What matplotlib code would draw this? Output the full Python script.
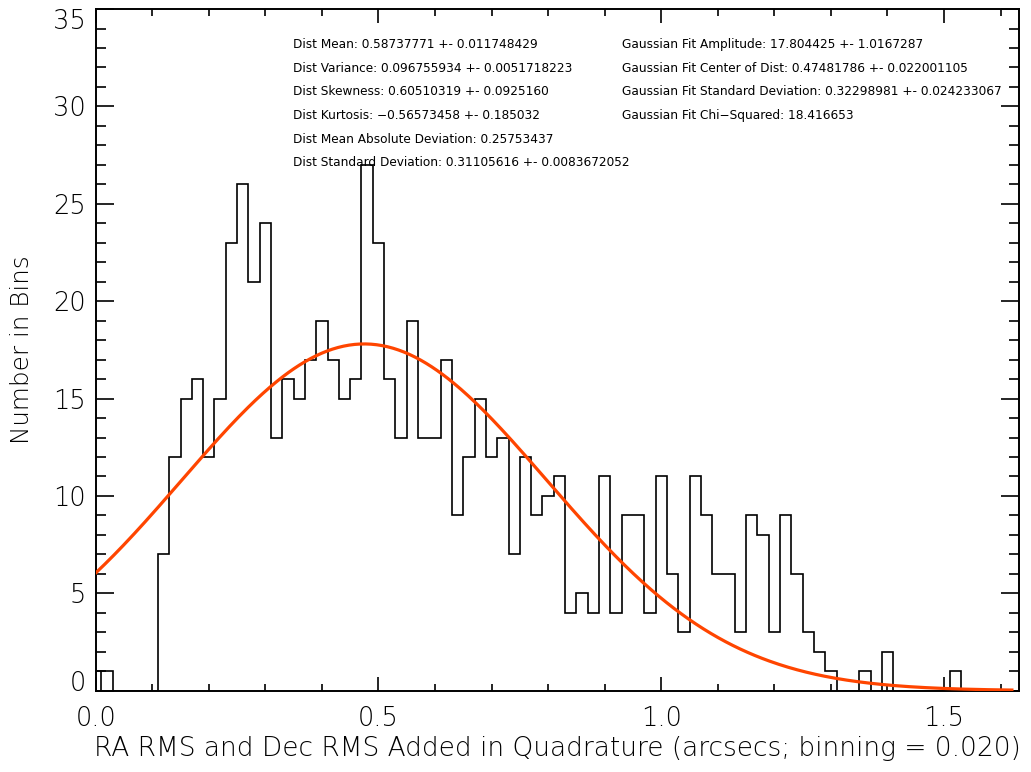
import numpy as np
import matplotlib
matplotlib.use('Agg')
import matplotlib.pyplot as plt
from matplotlib.ticker import MultipleLocator

# histogram of RA/Dec RMS added in quadrature, bin width 0.02 (centres)
bin_width = 0.02
bin_centers = np.round(np.arange(0.0, 1.62 + 1e-9, bin_width), 2)
counts = [1, 1, 0, 0, 0, 0, 7, 12, 15, 16,
          12, 15, 23, 26, 21, 24, 13, 16, 15, 17,
          19, 17, 15, 16, 27, 23, 16, 13, 19, 13,
          13, 17, 9, 12, 15, 12, 13, 7, 12, 9,
          10, 11, 4, 5, 4, 11, 4, 9, 9, 4,
          11, 6, 3, 11, 9, 6, 6, 3, 9, 8,
          3, 9, 6, 3, 2, 1, 0, 0, 1, 0,
          2, 0, 0, 0, 0, 0, 1, 0, 0, 0,
          0, 0]

# gaussian fit parameters (as printed on the chart)
fit_amp = 17.804425
fit_center = 0.47481786
fit_sigma = 0.32298981

left_notes = ["Dist Mean: 0.58737771 +- 0.011748429",
              "Dist Variance: 0.096755934 +- 0.0051718223",
              "Dist Skewness: 0.60510319 +- 0.0925160",
              "Dist Kurtosis: \u22120.56573458 +- 0.185032",
              "Dist Mean Absolute Deviation: 0.25753437",
              "Dist Standard Deviation: 0.31105616 +- 0.0083672052"]
right_notes = ["Gaussian Fit Amplitude: 17.804425 +- 1.0167287",
               "Gaussian Fit Center of Dist: 0.47481786 +- 0.022001105",
               "Gaussian Fit Standard Deviation: 0.32298981 +- 0.024233067",
               "Gaussian Fit Chi\u2212Squared: 18.416653"]

x_label = "RA RMS and Dec RMS Added in Quadrature (arcsecs; binning = 0.020)"
y_label = "Number in Bins"
y_max = 35


def main():
    plt.rcParams['font.family'] = ['DejaVu Sans']
    fig = plt.figure(figsize=(10.31, 7.72), dpi=100)
    ax = fig.add_axes([0.0928, 0.1053, 0.8958, 0.8830])

    counts_arr = np.array(counts)
    edges = np.append(bin_centers - bin_width / 2, bin_centers[-1] + bin_width / 2)
    ax.stairs(counts_arr, edges, baseline=0, fill=False, color='black', lw=1.2)
    ax.vlines(edges[1], 0, counts_arr[1], color='black', lw=1.2)

    xs = np.linspace(bin_centers[0], bin_centers[-1], 500)
    ys = fit_amp * np.exp(-(xs - fit_center) ** 2 / (2 * fit_sigma ** 2))
    ax.plot(xs, ys, color='#ff4500', lw=2.3, zorder=5)

    ax.set_xlim(0, 1.633)
    ax.set_ylim(0, y_max)

    ax.xaxis.set_major_locator(MultipleLocator(0.5))
    ax.xaxis.set_minor_locator(MultipleLocator(0.1))
    ax.yaxis.set_major_locator(MultipleLocator(5))
    ax.yaxis.set_minor_locator(MultipleLocator(1))
    ax.xaxis.set_major_formatter(lambda v, p: '%.1f' % v)

    ax.tick_params(axis='both', which='both', direction='in', top=True, right=True,
                   color='black', width=1.2)
    ax.tick_params(axis='x', which='major', length=10, pad=11, labelsize=18.5)
    ax.tick_params(axis='x', which='minor', length=5)
    ax.tick_params(axis='y', which='major', length=13.3, pad=7, labelsize=18.5)
    ax.tick_params(axis='y', which='minor', length=7)

    for lab in ax.get_xticklabels() + ax.get_yticklabels():
        lab.set_fontweight('light')
    # IDL keeps the end labels inside the axis range
    for loc, tick in zip(ax.yaxis.get_majorticklocs(), ax.yaxis.get_major_ticks()):
        if np.isclose(loc, 0):
            tick.label1.set_va('baseline')
        elif np.isclose(loc, y_max):
            tick.label1.set_va('top')

    for s in ax.spines.values():
        s.set_linewidth(1.4)

    ax.set_xlabel(x_label, fontsize=19, fontweight='light')
    ax.set_ylabel(y_label, fontsize=17.7, fontweight='light')
    ax.xaxis.set_label_coords(0.5, -0.0855)
    ax.xaxis.label.set_va('center')
    ax.yaxis.set_label_coords(-0.0798, 0.5)
    ax.yaxis.label.set_va('center')

    for i, t in enumerate(left_notes):
        ax.text(0.214, 0.9475 - i * 0.0346, t, transform=ax.transAxes,
                fontsize=8.7, va='center', ha='left')
    for i, t in enumerate(right_notes):
        ax.text(0.5695, 0.9475 - i * 0.0346, t, transform=ax.transAxes,
                fontsize=8.7, va='center', ha='left')

    fig.savefig('out.png', dpi=100)
    plt.close(fig)


if __name__ == '__main__':
    main()
